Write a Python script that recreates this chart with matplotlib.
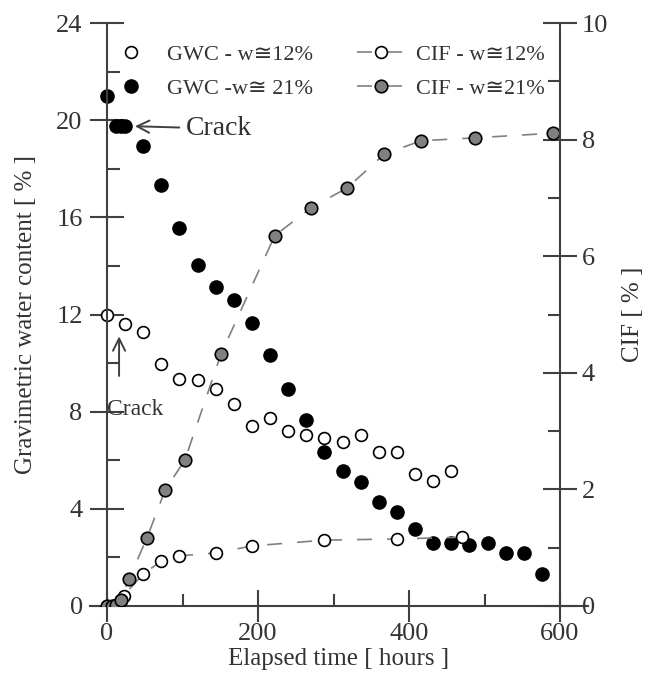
import matplotlib
matplotlib.use("Agg")
import matplotlib.pyplot as plt
from matplotlib.ticker import MultipleLocator

plt.rcParams['font.family'] = ['Liberation Serif', 'DejaVu Serif', 'DejaVu Sans']

# Gravimetric water content, w ~ 12 % (open circles)
gwc12_hours = [0, 24, 48, 72, 96, 120, 144, 168, 192, 216, 240, 264, 288, 312,
               336, 360, 384, 408, 432, 456]
gwc12_value = [12.0, 11.6, 11.3, 9.95, 9.35, 9.3, 8.95, 8.3, 7.4, 7.75, 7.2,
               7.05, 6.9, 6.75, 7.05, 6.35, 6.35, 5.45, 5.15, 5.55]

# Gravimetric water content, w ~ 21 % (filled circles)
gwc21_hours = [0, 12, 18, 24, 48, 72, 96, 120, 144, 168, 192, 216, 240, 264,
               288, 312, 336, 360, 384, 408, 432, 456, 480, 504, 528, 552, 576]
gwc21_value = [21.0, 19.75, 19.75, 19.75, 18.95, 17.35, 15.55, 14.05, 13.15,
               12.6, 11.65, 10.35, 8.95, 7.65, 6.35, 5.55, 5.1, 4.3, 3.85,
               3.15, 2.6, 2.6, 2.5, 2.6, 2.2, 2.2, 1.3]

# Crack intensity factor, w ~ 12 %
cif12_hours = [0, 12, 18, 22, 48, 72, 96, 144, 192, 288, 384, 470]
cif12_value = [0.0, 0.02, 0.1, 0.18, 0.55, 0.77, 0.86, 0.91, 1.03, 1.13,
               1.15, 1.18]

# Crack intensity factor, w ~ 21 %
cif21_hours = [0, 6, 12, 18, 29, 53, 77, 103, 151, 222, 270, 318, 367, 416,
               487, 590]
cif21_value = [0.0, 0.0, 0.02, 0.1, 0.46, 1.17, 1.99, 2.5, 4.32, 6.35, 6.83,
               7.17, 7.75, 7.98, 8.03, 8.11]

text_col = '#333333'
axis_col = '#404040'

fig = plt.figure(figsize=(6.45, 6.95), dpi=100)
ax = fig.add_axes([90 / 645, 1 - 606 / 695, 498 / 645, 583 / 695])
ax2 = ax.twinx()

ax.plot(gwc12_hours, gwc12_value, linestyle='none', marker='o', ms=8.5,
        mfc='white', mec='black', mew=1.2, label='GWC - w≅12%')
ax.plot(gwc21_hours, gwc21_value, linestyle='none', marker='o', ms=9.5,
        mfc='black', mec='black', mew=1.0, label='GWC -w≅ 21%')

ax2.plot(cif12_hours, cif12_value, color='#808080', lw=1.2, dashes=(9, 9),
         marker='o', ms=8.5, mfc='white', mec='black', mew=1.2,
         label='CIF - w≅12%')
ax2.plot(cif21_hours, cif21_value, color='#808080', lw=1.2, dashes=(9, 9),
         marker='o', ms=9, mfc='#808080', mec='black', mew=1.2,
         label='CIF - w≅21%')

ax.set_xlim(-22.5, 637)
ax.set_ylim(0, 24)
ax2.set_ylim(0, 10)

ax.spines['left'].set_position(('data', 0))
ax.spines['top'].set_visible(False)
ax.spines['right'].set_visible(False)
ax2.spines['right'].set_position(('data', 600))
for side in ['left', 'top', 'bottom']:
    ax2.spines[side].set_visible(False)
for sp in list(ax.spines.values()) + list(ax2.spines.values()):
    sp.set_color(axis_col)
    sp.set_linewidth(1.5)

ax.set_xticks([0, 200, 400, 600])
ax.xaxis.set_minor_locator(MultipleLocator(100))
ax.yaxis.set_major_locator(MultipleLocator(4))
ax.yaxis.set_minor_locator(MultipleLocator(2))
ax2.yaxis.set_major_locator(MultipleLocator(2))
ax2.yaxis.set_minor_locator(MultipleLocator(1))

ax.tick_params(axis='x', which='major', direction='inout', length=23, width=1.5,
               color=axis_col, labelsize=19, labelcolor=text_col, pad=1)
ax.tick_params(axis='y', which='major', direction='inout', length=25, width=1.5,
               color=axis_col, labelsize=19, labelcolor=text_col, pad=5)
ax.tick_params(which='minor', direction='in', length=9, width=1.5, color=axis_col)
ax2.tick_params(axis='y', which='major', direction='inout', length=25, width=1.5,
                color=axis_col, labelsize=19, labelcolor=text_col, pad=3)
ax2.tick_params(axis='y', which='minor', direction='in', length=9, width=1.5,
                color=axis_col)

ax.set_xlabel('Elapsed time [ hours ]', fontsize=18, color=text_col, labelpad=2)
ax.set_ylabel('Gravimetric water content [ % ]', fontsize=18, color=text_col,
              labelpad=14)
ax2.set_ylabel('CIF [ % ]', fontsize=18, color=text_col, labelpad=10)

# crack markers
arrow = dict(arrowstyle='->', color=axis_col, lw=1.4, mutation_scale=22,
             shrinkA=3, shrinkB=0)
ax.annotate('Crack', xy=(37, 19.75), xytext=(105, 19.65), fontsize=20,
            color=text_col, va='center', ha='left', arrowprops=arrow)
ax.annotate('', xy=(16, 11.1), xytext=(16, 9.3), arrowprops=arrow)
ax.text(0.5, 8.1, 'Crack', fontsize=17, color=text_col, va='center', ha='left')

handles = ax.get_legend_handles_labels()[0] + ax2.get_legend_handles_labels()[0]
leg = ax2.legend(handles=handles, ncol=2, loc='upper left',
                 bbox_to_anchor=(108 / 645, 1 - 44 / 695),
                 bbox_transform=fig.transFigure, frameon=False, fontsize=16,
                 borderpad=0, borderaxespad=0, handlelength=2.1,
                 handletextpad=0.55, columnspacing=2.0, labelspacing=0.63)
for t in leg.get_texts():
    t.set_color(text_col)

fig.savefig('out.png', dpi=100)
